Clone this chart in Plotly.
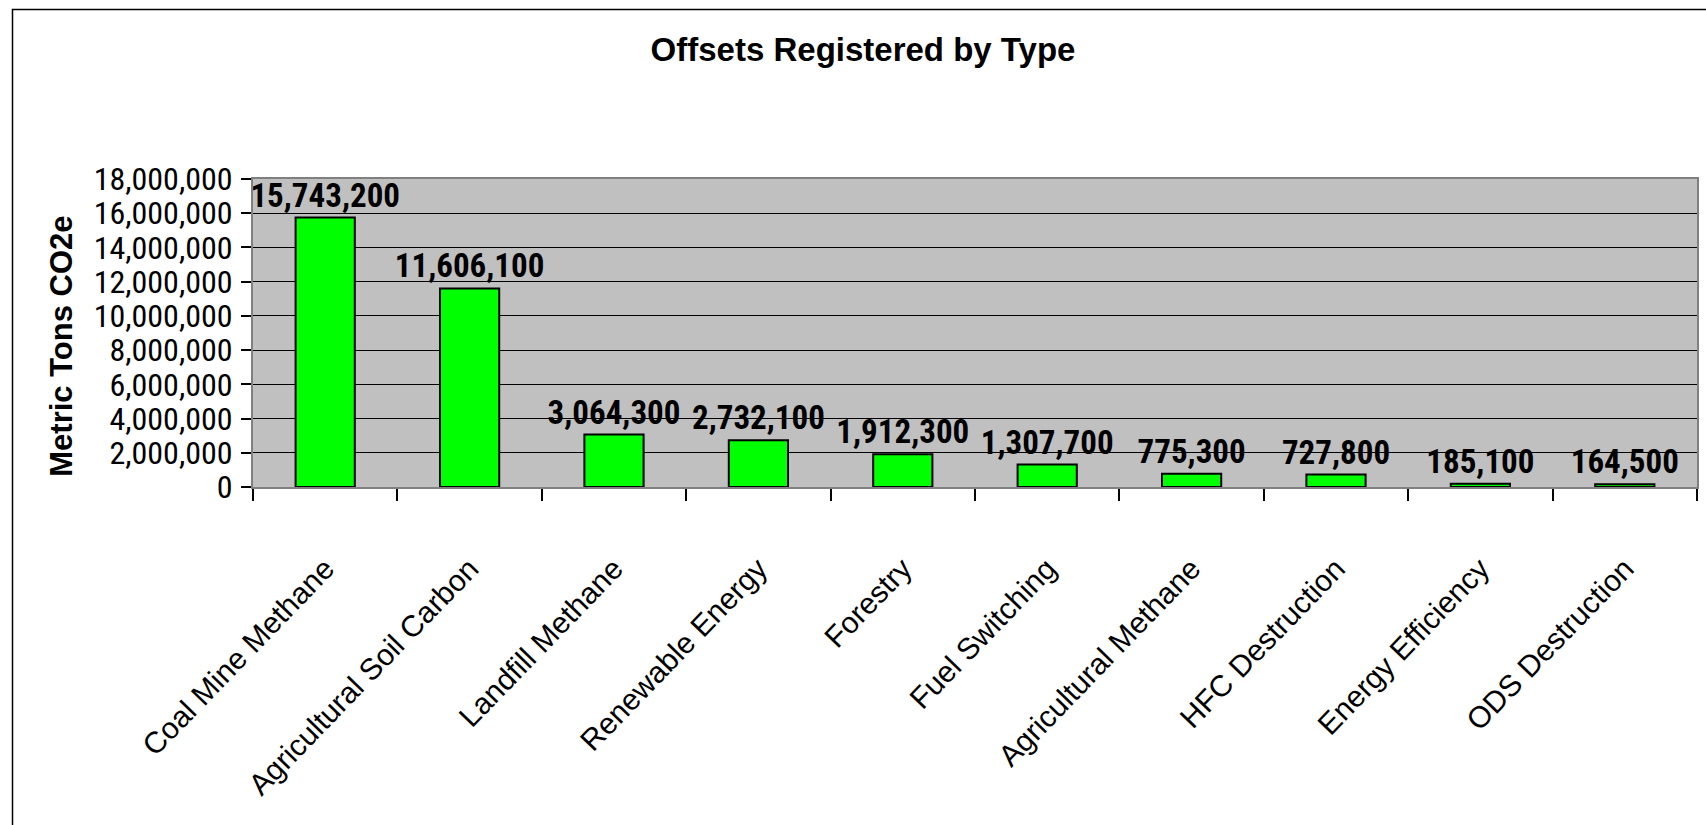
import plotly.graph_objects as go

# Registered offsets, by project type (metric tons CO2e)
offset_types = [
    "Coal Mine Methane",
    "Agricultural Soil Carbon",
    "Landfill Methane",
    "Renewable Energy",
    "Forestry",
    "Fuel Switching",
    "Agricultural Methane",
    "HFC Destruction",
    "Energy Efficiency",
    "ODS Destruction",
]
tons_co2e = [
    15743200,
    11606100,
    3064300,
    2732100,
    1912300,
    1307700,
    775300,
    727800,
    185100,
    164500,
]

W, H = 1706, 825
# plot-area box in pixels
PX0, PX1 = 253, 1697
PY0, PY1 = 179, 487.5

NARROW = "Roboto Condensed, Liberation Sans, sans-serif"
WIDE = "Liberation Sans, Arial, sans-serif"


def px_to_paper_x(px):
    return (px - PX0) / (PX1 - PX0)


def px_to_paper_y(py):
    return (PY1 - py) / (PY1 - PY0)


fig = go.Figure(
    go.Bar(
        x=offset_types,
        y=tons_co2e,
        width=0.41,
        marker=dict(color="#00FF00", line=dict(color="black", width=2)),
        texttemplate="%{y:,}",
        textposition="outside",
        constraintext="none",
        cliponaxis=False,
        textfont=dict(family=NARROW, size=33, color="black", weight="bold"),
        hoverinfo="skip",
    )
)

fig.update_layout(
    width=W,
    height=H,
    margin=dict(l=PX0, r=W - PX1, t=PY0, b=H - PY1, pad=0, autoexpand=False),
    paper_bgcolor="white",
    plot_bgcolor="#C0C0C0",
    showlegend=False,
    title=dict(
        text="<b>Offsets Registered by Type</b>",
        font=dict(family=WIDE, size=33, color="black"),
        x=863 / W,
        xref="container",
        xanchor="center",
        y=1 - 49 / H,
        yref="container",
        yanchor="middle",
    ),
)

fig.update_yaxes(
    automargin=False,
    range=[0, 18000000],
    dtick=2000000,
    tickformat=",",
    showgrid=True,
    gridcolor="black",
    gridwidth=1.3,
    zeroline=False,
    showline=True,
    linecolor="#808080",
    linewidth=2,
    mirror=True,
    ticks="outside",
    ticklen=10,
    tickwidth=1.5,
    tickcolor="black",
    ticklabelstandoff=2,
    tickfont=dict(family=NARROW, size=32, color="black"),
)

fig.update_xaxes(
    automargin=False,
    type="category",
    showgrid=False,
    showline=True,
    linecolor="#808080",
    linewidth=2,
    mirror=True,
    ticks="outside",
    tickson="boundaries",
    ticklen=12,
    tickwidth=1.5,
    tickcolor="black",
    tickangle=-46,
    ticklabelstandoff=50,
    tickfont=dict(family=WIDE, size=30, color="black"),
)

# y-axis title
fig.add_annotation(
    text="<b>Metric Tons CO2e</b>",
    xref="paper",
    yref="paper",
    x=px_to_paper_x(62),
    y=px_to_paper_y(346),
    xanchor="center",
    yanchor="middle",
    textangle=-90,
    showarrow=False,
    font=dict(family=WIDE, size=31, color="black"),
)

# chart-area frame
fig.add_shape(
    type="rect",
    xref="paper",
    yref="paper",
    x0=px_to_paper_x(12.5),
    x1=px_to_paper_x(1730),
    y0=px_to_paper_y(850),
    y1=px_to_paper_y(9.3),
    line=dict(color="black", width=1.5),
    fillcolor="rgba(0,0,0,0)",
    layer="above",
)

fig.write_html("out.html")
